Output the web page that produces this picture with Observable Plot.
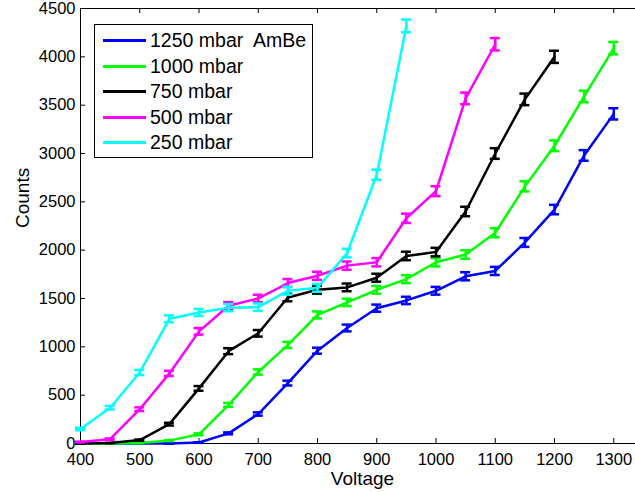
<!DOCTYPE html>
<html><head><meta charset="utf-8">
<script src="https://cdn.jsdelivr.net/npm/d3@7"></script>
<script src="https://cdn.jsdelivr.net/npm/@observablehq/plot@0.6"></script>
<style>
body{margin:0;background:#fff;}
#wrap{position:relative;width:635px;height:492px;overflow:hidden;font-family:"Liberation Sans",Arial,Helvetica,sans-serif;}
#legend{position:absolute;left:94px;top:24px;width:217px;height:132px;border:1px solid #000;background:#fff;}
.row{position:absolute;left:0;height:0;width:100%;}
.sw{position:absolute;left:8px;width:43px;height:3px;top:-1.5px;}
.lb{position:absolute;left:55px;top:-12px;font-size:19.5px;line-height:24px;white-space:pre;color:#000;}
</style></head><body><div id="wrap"></div>
<script>
const voltage = [400,450,500,550,600,650,700,750,800,850,900,950,1000,1050,1100,1150,1200,1250,1300];
const labels = ["1250 mbar  AmBe","1000 mbar","750 mbar","500 mbar","250 mbar"];
const colors = ["#0000ff","#00ff00","#000000","#ff00ff","#00ffff"];
const xTicks = [400,500,600,700,800,900,1000,1100,1200,1300];
const yTicks = [0,500,1000,1500,2000,2500,3000,3500,4000,4500];

const counts1250 = [0,0,0,0,10,105,305,625,960,1195,1400,1480,1580,1730,1785,2080,2420,2980,3410];
const err1250    = [0,0,0,0,3,10,17,25,31,35,37,38,40,42,42,46,49,55,58];
const counts1000 = [0,0,5,30,95,400,740,1020,1330,1460,1590,1700,1875,1955,2180,2660,3080,3590,4090];
const err1000    = [0,0,2,5,10,20,27,32,36,38,40,41,43,44,47,52,55,60,64];
const counts750  = [0,5,35,200,570,955,1140,1510,1590,1615,1715,1940,1980,2400,3000,3560,4000];
const err750     = [0,2,6,14,24,31,34,39,40,40,41,44,44,49,55,60,63];
const counts500  = [15,45,355,725,1160,1425,1500,1660,1735,1840,1875,2330,2610,3570,4130];
const err500     = [4,7,19,27,34,38,39,41,42,43,43,48,51,60,64];
const counts250  = [150,370,735,1290,1355,1405,1410,1580,1610,1970,2780,4320];
const err250     = [12,19,27,36,37,37,38,40,40,44,53,66];

const sets = [
  {c: counts1250, e: err1250},
  {c: counts1000, e: err1000},
  {c: counts750,  e: err750},
  {c: counts500,  e: err500},
  {c: counts250,  e: err250}
];
const rows = sets.flatMap((s, si) => s.c.map((c, i) => ({series: labels[si], si, v: voltage[i], c, e: s.e[i]})));

const plotH = 492 - 8 - 49;
const plotW = 635 - 80;
const seriesMarks = sets.flatMap((s, k) => {
  const d = rows.filter(r => r.si === k);
  return [
    Plot.line(d, {x: "v", y: "c", stroke: "series", strokeWidth: 2.5}),
    Plot.ruleX(d, {x: "v", y1: r => r.c - r.e, y2: r => r.c + r.e, stroke: "series", strokeWidth: 2.5}),
    Plot.ruleY(d, {y: r => r.c + r.e, x1: "v", x2: "v", insetLeft: -5, insetRight: -5, stroke: "series", strokeWidth: 2.5}),
    Plot.ruleY(d, {y: r => r.c - r.e, x1: "v", x2: "v", insetLeft: -5, insetRight: -5, stroke: "series", strokeWidth: 2.5})
  ];
});

const chart = Plot.plot({
  width: 635, height: 492,
  marginLeft: 80, marginRight: 0, marginTop: 8, marginBottom: 49,
  style: {fontFamily: '"Liberation Sans",Arial,Helvetica,sans-serif', fontSize: "16.5px", color: "#000", background: "#fff", overflow: "visible"},
  x: {domain: [400, 1336.7]},
  y: {domain: [0, 4500]},
  color: {domain: labels, range: colors},
  marks: [
    Plot.ruleY([0], {stroke: "#000", strokeWidth: 1}),
    Plot.ruleY([4500], {stroke: "#000", strokeWidth: 1}),
    Plot.ruleX([400], {stroke: "#000", strokeWidth: 1}),
    Plot.ruleX(xTicks, {insetTop: plotH - 5, stroke: "#000"}),
    Plot.ruleX(xTicks, {insetBottom: plotH - 5, stroke: "#000"}),
    Plot.ruleY(yTicks, {insetRight: plotW - 5, stroke: "#000"}),
    Plot.axisX(xTicks, {tickSize: 0, tickPadding: 10, label: null, tickFormat: d => String(d), fontSize: 16.5}),
    Plot.axisY(yTicks, {tickSize: 0, tickPadding: 5, label: null, tickFormat: d => String(d), fontSize: 16.5}),
    ...seriesMarks,
    Plot.text(["Voltage"], {text: d => d, frameAnchor: "bottom", dx: 4.5, dy: 35.5, lineAnchor: "middle", fontSize: 19, fill: "#000"}),
    Plot.text(["Counts"], {text: d => d, frameAnchor: "left", dx: -58, dy: 2, rotate: -90, lineAnchor: "middle", fontSize: 19, fill: "#000"})
  ]
});

const wrap = document.getElementById("wrap");
wrap.appendChild(chart);

const legend = document.createElement("div");
legend.id = "legend";
const rowY = [15, 41, 66, 92, 117];
labels.forEach((lab, i) => {
  const row = document.createElement("div");
  row.className = "row";
  row.style.top = rowY[i] + "px";
  const sw = document.createElement("div");
  sw.className = "sw";
  sw.style.background = colors[i];
  const lb = document.createElement("div");
  lb.className = "lb";
  lb.textContent = lab;
  row.appendChild(sw);
  row.appendChild(lb);
  legend.appendChild(row);
});
wrap.appendChild(legend);
</script>
</body></html>
